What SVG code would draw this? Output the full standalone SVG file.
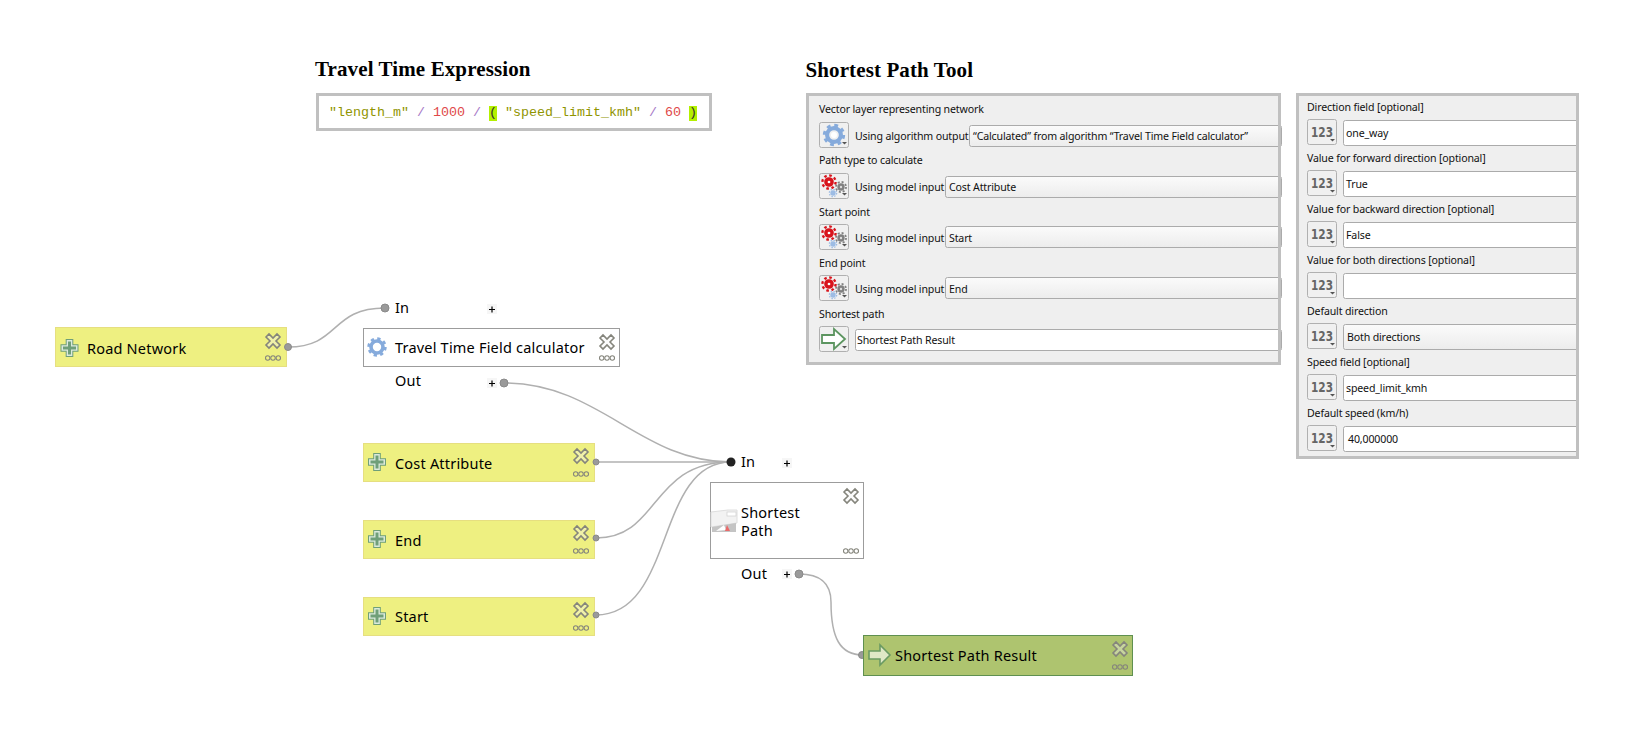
<svg xmlns="http://www.w3.org/2000/svg" xmlns:xlink="http://www.w3.org/1999/xlink" width="1640" height="740" viewBox="0 0 1640 740">
<style>
.title{font:bold 21px "Liberation Serif",serif;fill:#000;letter-spacing:.11px}
.code{font:13.33px "Liberation Mono",monospace}
.s{fill:#8f9400}.o{fill:#a878c8}.n{fill:#e04848}.p{fill:#333}
.panel{fill:#efefef}
.frame{fill:none;stroke:#c0c0c0;stroke-width:3}
.ui{font:10.6px "Noto Sans","DejaVu Sans",sans-serif;fill:#111;letter-spacing:-.15px}
.btn{fill:#f0f0f0;stroke:#b0b0b0;stroke-width:1}
.combo{fill:url(#cg);stroke:#ababab;stroke-width:1}
.field{fill:#fff;stroke:#ababab;stroke-width:1}
.num{font:bold 14px "DejaVu Sans",sans-serif;fill:#666}
.lbl{font:14.5px "Noto Sans","DejaVu Sans",sans-serif;fill:#000;letter-spacing:.2px}
.inp{fill:#eef081;stroke:#e6df80;stroke-width:1}
.alg{fill:#fff;stroke:#9c9c9c;stroke-width:1}
.res{fill:#aec46f;stroke:#5f9050;stroke-width:1}
.con{fill:none;stroke:#b0b0b0;stroke-width:1.5}
.port{fill:#9a9a9a;stroke:#8a8a8a}
.plus{fill:#f6f6f6}
.plus2{stroke:#000;stroke-width:1.2}
.x{fill:#f3f3f3;fill-opacity:.35;stroke:#85857c;stroke-width:1.6}
.dots{fill:none;stroke:#85857c;stroke-width:1.1}
</style>
<defs>
<linearGradient id="cg" x1="0" y1="0" x2="0" y2="1"><stop offset="0" stop-color="#fbfbfb"/><stop offset="1" stop-color="#ececec"/></linearGradient>
<g id="close"><path class="x" d="M-7,-4 L-4,-7 L0,-3 L4,-7 L7,-4 L3,0 L7,4 L4,7 L0,3 L-4,7 L-7,4 L-3,0 Z"/></g>
<g id="more"><circle class="dots" cx="-5.300" cy="0" r="2.200"/><circle class="dots" cx="0" cy="0" r="2.200"/><circle class="dots" cx="5.300" cy="0" r="2.200"/></g>
<g id="plusicon"><path d="M-3.800,-9 H3.800 V-3.800 H9 V3.800 H3.800 V9 H-3.800 V3.800 H-9 V-3.800 H-3.800 Z" fill="#6f9f79"/><path d="M-2.800,-8 H2.800 V-2.800 H8 V2.800 H2.800 V8 H-2.800 V2.800 H-8 V-2.800 H-2.800 Z" fill="#dceadc"/><path d="M-1.500,-6.500 H1.500 V-1.500 H6.500 V1.500 H1.500 V6.500 H-1.500 V1.500 H-6.500 V-1.500 H-1.500 Z" fill="#6f9f79"/></g>
<g id="gear"><circle r="6" fill="none" stroke="#86abdc" stroke-width="3.6"/><circle r="8" fill="none" stroke="#86abdc" stroke-width="3.4" stroke-dasharray="3.14 3.14"/><circle r="2.600" fill="#fff"/></g>
<g id="model"><g transform="translate(10,9) scale(1.05)"><circle r="4.6" fill="#d8141c"/><circle r="6.3" fill="none" stroke="#d8141c" stroke-width="2.2" stroke-dasharray="2.5 2.45"/><circle r="1.3" fill="#fff"/></g><g transform="translate(22,14) scale(.8)"><circle r="4.6" fill="#808080"/><circle r="6.3" fill="none" stroke="#808080" stroke-width="2.2" stroke-dasharray="2.5 2.45"/><circle r="1.5" fill="#ddd"/></g><g transform="translate(14,20) scale(.58)"><circle r="4.6" fill="#9dbce4"/><circle r="6.3" fill="none" stroke="#9dbce4" stroke-width="2.2" stroke-dasharray="2.5 2.45"/></g></g>
<g id="caret"><path d="M0,0 H5 L2.500,2.500 Z" fill="#555"/></g>
<g id="b"><rect class="btn" x="0.500" y="0.500" width="29" height="25" rx="2"/><use xlink:href="#caret" x="23" y="20"/></g>
<g id="numb"><use xlink:href="#b"/><text class="num" x="4" y="18" textLength="22" lengthAdjust="spacingAndGlyphs">123</text></g>
</defs>

<g id="expression">
<text class="title" x="315" y="76">Travel Time Expression</text>
<rect x="317.500" y="94.500" width="393" height="35" fill="#fff" stroke="#c0c0c0" stroke-width="3"/>
<rect x="489" y="106" width="8" height="15" fill="#b4f000"/><rect x="689" y="106" width="8" height="15" fill="#b4f000"/>
<text class="code" x="329" y="116" xml:space="preserve"><tspan class="s">"length_m"</tspan><tspan class="o"> / </tspan><tspan class="n">1000</tspan><tspan class="o"> / </tspan><tspan class="p">(</tspan><tspan class="s"> "speed_limit_kmh"</tspan><tspan class="o"> / </tspan><tspan class="n">60</tspan><tspan class="p"> )</tspan></text>
</g>

<g id="shortest-path-tool">
<text class="title" x="805.500" y="77">Shortest Path Tool</text>
<rect class="panel" x="807.500" y="94.500" width="472" height="269"/>
<text class="ui" x="819" y="113">Vector layer representing network</text>
<use xlink:href="#b" x="819" y="122"/><use xlink:href="#gear" transform="translate(834,135) scale(1.15)"/>
<text class="ui" x="855" y="140">Using algorithm output</text>
<rect class="combo" x="969.500" y="125.500" width="312" height="21" rx="2"/>
<text class="ui" x="973" y="140">“Calculated” from algorithm “Travel Time Field calculator”</text>

<text class="ui" x="819" y="164">Path type to calculate</text>
<use xlink:href="#b" x="819" y="173"/><use xlink:href="#model" x="819" y="173"/>
<text class="ui" x="855" y="191">Using model input</text>
<rect class="combo" x="945.500" y="176.500" width="336" height="21" rx="2"/>
<text class="ui" x="949" y="191">Cost Attribute</text>

<text class="ui" x="819" y="216">Start point</text>
<use xlink:href="#b" x="819" y="224"/><use xlink:href="#model" x="819" y="224"/>
<text class="ui" x="855" y="242">Using model input</text>
<rect class="combo" x="945.500" y="226.500" width="336" height="21" rx="2"/>
<text class="ui" x="949" y="242">Start</text>

<text class="ui" x="819" y="267">End point</text>
<use xlink:href="#b" x="819" y="275"/><use xlink:href="#model" x="819" y="275"/>
<text class="ui" x="855" y="293">Using model input</text>
<rect class="combo" x="945.500" y="277.500" width="336" height="21" rx="2"/>
<text class="ui" x="949" y="293">End</text>

<text class="ui" x="819" y="318">Shortest path</text>
<use xlink:href="#b" x="819" y="326"/>
<path d="M822,335 H834 V329 L845,339 L834,349 V343 H822 Z" fill="#fff" stroke="#5c9560" stroke-width="1.8"/>
<rect class="field" x="855.500" y="329.500" width="426" height="21" rx="2"/>
<text class="ui" x="857" y="344">Shortest Path Result</text>
<rect class="frame" x="807.500" y="94.500" width="472" height="269"/>
</g>

<g id="direction-panel">
<rect class="panel" x="1297.500" y="94.500" width="280" height="363"/>
<text class="ui" x="1307" y="111">Direction field [optional]</text>
<use xlink:href="#numb" x="1307" y="119"/><rect class="field" x="1343.500" y="120.500" width="238" height="25" rx="2"/>
<text class="ui" x="1346" y="137">one_way</text>
<text class="ui" x="1307" y="162">Value for forward direction [optional]</text>
<use xlink:href="#numb" x="1307" y="170"/><rect class="field" x="1343.500" y="171.500" width="238" height="25" rx="2"/>
<text class="ui" x="1346" y="188">True</text>
<text class="ui" x="1307" y="213">Value for backward direction [optional]</text>
<use xlink:href="#numb" x="1307" y="221"/><rect class="field" x="1343.500" y="222.500" width="238" height="25" rx="2"/>
<text class="ui" x="1346" y="239">False</text>
<text class="ui" x="1307" y="264">Value for both directions [optional]</text>
<use xlink:href="#numb" x="1307" y="272"/><rect class="field" x="1343.500" y="273.500" width="238" height="25" rx="2"/>
<text class="ui" x="1307" y="315">Default direction</text>
<use xlink:href="#numb" x="1307" y="323"/><rect class="combo" x="1343.500" y="324.500" width="238" height="25" rx="2"/>
<text class="ui" x="1347" y="341">Both directions</text>
<text class="ui" x="1307" y="366">Speed field [optional]</text>
<use xlink:href="#numb" x="1307" y="374"/><rect class="field" x="1343.500" y="375.500" width="238" height="25" rx="2"/>
<text class="ui" x="1346" y="392">speed_limit_kmh</text>
<text class="ui" x="1307" y="417">Default speed (km/h)</text>
<use xlink:href="#numb" x="1307" y="425"/><rect class="field" x="1343.500" y="426.500" width="238" height="25" rx="2"/>
<text class="ui" x="1348" y="443">40,000000</text>
<rect x="1579" y="90" width="6" height="372" fill="#fff"/>
<rect class="frame" x="1297.500" y="94.500" width="280" height="363"/>
</g>

<g id="connectors">
<path class="con" d="M288,347 C340,347 330,308 385,308"/>
<path class="con" d="M504,383 C600,383 640,462 731,462"/>
<path class="con" d="M596,462 C640,462 680,462 731,462"/>
<path class="con" d="M596,538 C660,538 650,462 731,462"/>
<path class="con" d="M596,615 C675,615 655,462 731,462"/>
<path class="con" d="M799,574 C822,574 831,585 831,602 C831,638 840,655 863,655"/>
</g>

<g id="road-network">
<rect class="inp" x="55.500" y="327.500" width="231" height="39"/>
<circle class="port" cx="288" cy="347" r="3.500"/>
<use xlink:href="#plusicon" x="69.500" y="348"/>
<text class="lbl" x="87" y="354">Road Network</text>
<use xlink:href="#close" x="273" y="341"/><use xlink:href="#more" x="273" y="358"/>
</g>

<g id="travel-time-field-calculator">
<circle class="port" cx="385" cy="308" r="4"/>
<text class="lbl" x="395" y="313">In</text>
<rect class="plus" x="487" y="304" width="10" height="10"/><path class="plus2" d="M489,309.500 H495 M492,306.500 V312.500"/>
<rect class="alg" x="363.500" y="328.500" width="256" height="38"/>
<use xlink:href="#gear" transform="translate(377,347)"/>
<text class="lbl" x="395" y="353">Travel Time Field calculator</text>
<use xlink:href="#close" x="607" y="342"/><use xlink:href="#more" x="607" y="358"/>
<text class="lbl" x="395" y="386">Out</text>
<rect class="plus" x="487" y="378" width="10" height="10"/><path class="plus2" d="M489,383.500 H495 M492,380.500 V386.500"/>
<circle class="port" cx="504" cy="383" r="4"/>
</g>

<g id="cost-attribute">
<rect class="inp" x="363.500" y="443.500" width="231" height="38"/>
<circle class="port" cx="596" cy="462" r="3"/>
<use xlink:href="#plusicon" x="377" y="462"/>
<text class="lbl" x="395" y="469">Cost Attribute</text>
<use xlink:href="#close" x="581" y="456"/><use xlink:href="#more" x="581" y="474"/>
</g>

<g id="end">
<rect class="inp" x="363.500" y="520.500" width="231" height="38"/>
<circle class="port" cx="596" cy="538" r="3"/>
<use xlink:href="#plusicon" x="377" y="539"/>
<text class="lbl" x="395" y="546">End</text>
<use xlink:href="#close" x="581" y="533"/><use xlink:href="#more" x="581" y="551"/>
</g>

<g id="start">
<rect class="inp" x="363.500" y="597.500" width="231" height="38"/>
<circle class="port" cx="596" cy="615" r="3"/>
<use xlink:href="#plusicon" x="377" y="616"/>
<text class="lbl" x="395" y="622">Start</text>
<use xlink:href="#close" x="581" y="610"/><use xlink:href="#more" x="581" y="628"/>
</g>

<g id="shortest-path">
<circle cx="731" cy="462" r="4.500" fill="#222"/>
<text class="lbl" x="741" y="467">In</text>
<rect class="plus" x="782" y="458" width="10" height="10"/><path class="plus2" d="M784,463.500 H790 M787,460.500 V466.500"/>
<rect class="alg" x="710.500" y="482.500" width="153" height="76"/>
<path d="M711,512 L728,510 H737 V523 L711,527 Z" fill="#f2f2f2" stroke="#dedede"/>
<rect x="727" y="512" width="9" height="4" fill="#fff" stroke="#cfcfcf" stroke-width=".7"/>
<path d="M712,527 L736,523 V532 H712 Z" fill="#c4c4c4"/>
<path d="M716,531 L724,525 L726,530 Z" fill="#fff"/><path d="M725,531 L727,525 L730,531 Z" fill="#e96a6a"/>
<text class="lbl" x="741" y="518">Shortest</text>
<text class="lbl" x="741" y="536">Path</text>
<use xlink:href="#close" x="851" y="496"/><use xlink:href="#more" x="851" y="551"/>
<text class="lbl" x="741" y="579">Out</text>
<rect class="plus" x="782" y="569" width="10" height="10"/><path class="plus2" d="M784,574.500 H790 M787,571.500 V577.500"/>
<circle class="port" cx="799" cy="574" r="4"/>
</g>

<g id="shortest-path-result">
<circle class="port" cx="862" cy="655" r="3.500"/>
<rect class="res" x="863.500" y="635.500" width="269" height="40"/>
<path d="M869,651 H880 V645 L890,655 L880,665 V659 H869 Z" fill="#dfe8c6" stroke="#6b9a63" stroke-width="1.6"/>
<text class="lbl" x="895" y="661">Shortest Path Result</text>
<use xlink:href="#close" x="1120" y="649"/><use xlink:href="#more" x="1120" y="667"/>
</g>
</svg>
